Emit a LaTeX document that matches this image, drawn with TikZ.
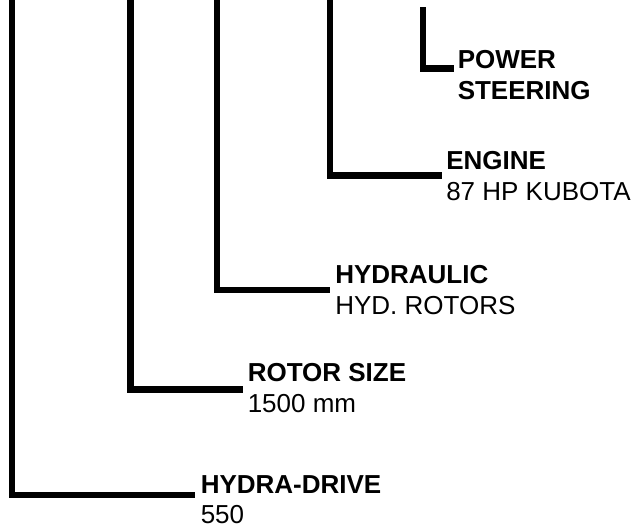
\documentclass[tikz,border=0pt]{standalone}
\usepackage{fontspec}
\setmainfont{Liberation Sans}
\usepackage{tikz}
\usetikzlibrary{calc}
\tikzset{
 lead/.style={draw=black,line width=4.6pt,line join=miter,line cap=butt},
 spec/.style={anchor=north west,inner sep=0pt,align=left,
   font=\fontsize{19.5}{23.1}\selectfont}
}
\begin{document}
\begin{tikzpicture}[x=0.75pt,y=-0.75pt]
\useasboundingbox (0,0) rectangle (637,527);
% top ends of the leads
\coordinate (hydratop) at (12,0);
\coordinate (rotortop) at (130.5,0);
\coordinate (hydrtop) at (217.3,0);
\coordinate (enginetop) at (329.7,0);
\coordinate (steertop) at (423,7.5);
% ends next to the texts
\coordinate (hydraend) at (195,495);
\coordinate (rotorend) at (243,389.5);
\coordinate (hydrend) at (329.5,290);
\coordinate (engineend) at (442,175.5);
\coordinate (steerend) at (453.5,68.5);
\node[spec] (hydra) at (200.5,475) {\textbf{HYDRA-DRIVE}\\550};
\node[spec] (rotor) at (247.5,363.5) {\textbf{ROTOR SIZE}\\1500 mm};
\node[spec] (hydr) at (335,265) {\textbf{HYDRAULIC}\\HYD. ROTORS};
\node[spec] (engine) at (446,151.5) {\textbf{ENGINE}\\87 HP KUBOTA};
\node[spec] (steer) at (457.5,50) {\textbf{POWER}\\\textbf{STEERING}};
\draw[lead] (hydratop) |- (hydraend);
\draw[lead] (rotortop) |- (rotorend);
\draw[lead] (hydrtop) |- (hydrend);
\draw[lead] (enginetop) |- (engineend);
\draw[lead] (steertop) |- (steerend);
\end{tikzpicture}
\end{document}
